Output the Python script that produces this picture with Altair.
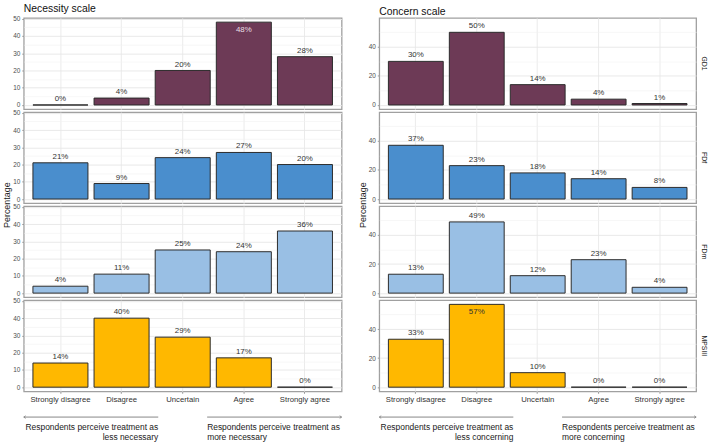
import altair as alt
import pandas as pd

categories = ["Strongly disagree", "Disagree", "Uncertain", "Agree", "Strongly agree"]
groups = ["GD1", "FDf", "FDm", "MPSIII"]
group_colors = ["#6D3A56", "#4A8ECD", "#99BFE4", "#FFB800"]

# Necessity scale (%)
nec_gd1 = [0, 4, 20, 48, 28]
nec_fdf = [21, 9, 24, 27, 20]
nec_fdm = [4, 11, 25, 24, 36]
nec_mps = [14, 40, 29, 17, 0]

# Concern scale (%)
con_gd1 = [30, 50, 14, 4, 1]
con_fdf = [37, 23, 18, 14, 8]
con_fdm = [13, 49, 12, 23, 4]
con_mps = [33, 57, 10, 0, 0]

nec_ticks = [0, 5, 10, 15, 20, 25, 30, 35, 40, 45, 50]
con_ticks = [0, 10, 20, 30, 40, 50]

# arrow annotation spans (in category-step units across the panel)
arrow_left = [0.0, 2.2]
arrow_right = [3.0, 5.2]
nec_notes = ["Respondents perceive treatment as\nless necessary",
             "Respondents perceive treatment as\nmore necessary"]
con_notes = ["Respondents perceive treatment as\nless concerning",
             "Respondents perceive treatment as\nmore concerning"]

FONT = "Liberation Sans"
H = 92


def panel(values, group, color, ydom, ticks, major_step, width,
          bottom=False, title=None, ytitle=False, strip=False):
    df = pd.DataFrame({
        "category": categories,
        "pct": values,
        "label": [f"{v}%" for v in values],
        "inside": [v > 0.9 * ydom[1] for v in values],
    })
    if bottom:
        xaxis = alt.Axis(title=None, labelAngle=0, labelFontSize=7.8, labelColor="#333333",
                         ticks=True, tickSize=2, tickColor="#999999", domain=False,
                         grid=True, gridColor="#ebebeb", bandPosition=0.5, labelPadding=2)
    else:
        xaxis = alt.Axis(title=None, labels=False, ticks=False, domain=False,
                         grid=True, gridColor="#ebebeb", bandPosition=0.5)
    test = f"datum.value % {major_step} === 0"
    yaxis = alt.Axis(
        values=ticks,
        labelExpr=f"datum.value % {major_step} === 0 ? datum.label : ''",
        labelFontSize=6.5, labelColor="#4d4d4d", labelPadding=2,
        tickSize=2, tickColor="#999999",
        tickOpacity={"condition": {"test": test, "value": 1}, "value": 0},
        domain=False, grid=True,
        gridColor={"condition": {"test": test, "value": "#e6e6e6"}, "value": "#f1f1f1"},
        gridWidth={"condition": {"test": test, "value": 0.9}, "value": 0.6},
        title="Percentage" if ytitle else None,
        titleFontSize=9, titleFontWeight="normal", titleColor="#1a1a1a",
        **({"titleY": H + 1.5, "titleX": -12} if ytitle else {}),
    )
    x = alt.X("category:N", sort=categories,
              scale=alt.Scale(paddingInner=0.1, paddingOuter=0.15), axis=xaxis)
    y = alt.Y("pct:Q", scale=alt.Scale(domain=ydom, nice=False, zero=False), axis=yaxis)
    base = alt.Chart(df)
    bars = base.mark_bar(color=color, stroke="#2a2a2a", strokeWidth=1).encode(x=x, y=y)
    out_lbl = base.transform_filter("!datum.inside").mark_text(
        baseline="bottom", dy=-2, fontSize=8, color="#333333", font=FONT
    ).encode(x=x, y=y, text="label:N")
    in_color = "#e8dfe4" if group == "GD1" else "#333333"
    in_lbl = base.transform_filter("datum.inside").mark_text(
        baseline="top", dy=4, fontSize=8, color=in_color, font=FONT
    ).encode(x=x, y=y, text="label:N")
    layers = [bars, out_lbl, in_lbl]
    if strip:
        s = alt.Chart(pd.DataFrame({"g": [group]})).mark_text(
            angle=90, fontSize=7, color="#1a1a1a", font=FONT, baseline="middle", align="center"
        ).encode(x=alt.value(width + 8), y=alt.value(H / 2), text="g:N")
        layers.append(s)
    ch = alt.layer(*layers).properties(width=width, height=H)
    if title:
        ch = ch.properties(title=alt.Title(title, anchor="start", frame="group", fontSize=10.5,
                                           fontWeight="normal", color="#111111", offset=1, font=FONT))
    return ch


def annotation(notes, width):
    arr = pd.DataFrame({"x": [arrow_left[0], arrow_right[0]], "x2": [arrow_left[1], arrow_right[1]]})
    tips = pd.DataFrame({"x": [arrow_left[0], arrow_right[1]], "dir": ["l", "r"]})
    txt = pd.DataFrame({"x": [arrow_left[1], arrow_right[0]], "t": notes, "side": ["l", "r"]})
    xs = alt.Scale(domain=[0, 5.2], nice=False, zero=False)
    rules = alt.Chart(arr).mark_rule(color="#666666", strokeWidth=0.8).encode(
        x=alt.X("x:Q", scale=xs, axis=None), x2="x2:Q", y=alt.value(8))
    tl = alt.Chart(tips).transform_filter("datum.dir == 'l'").mark_point(
        shape="M1,-0.7L0,0L1,0.7", size=16, color="#666666", strokeWidth=0.8, filled=False
    ).encode(x=alt.X("x:Q", scale=xs, axis=None), y=alt.value(8))
    tr = alt.Chart(tips).transform_filter("datum.dir == 'r'").mark_point(
        shape="M-1,-0.7L0,0L-1,0.7", size=16, color="#666666", strokeWidth=0.8, filled=False
    ).encode(x=alt.X("x:Q", scale=xs, axis=None), y=alt.value(8))
    t1 = alt.Chart(txt).transform_filter("datum.side == 'l'").mark_text(
        align="right", baseline="top", lineBreak="\n", fontSize=8.5, color="#1a1a1a",
        font=FONT, lineHeight=10
    ).encode(x=alt.X("x:Q", scale=xs, axis=None), y=alt.value(14), text="t:N")
    t2 = alt.Chart(txt).transform_filter("datum.side == 'r'").mark_text(
        align="left", baseline="top", lineBreak="\n", fontSize=8.5, color="#1a1a1a",
        font=FONT, lineHeight=10
    ).encode(x=alt.X("x:Q", scale=xs, axis=None), y=alt.value(14), text="t:N")
    return alt.layer(rules, tl, tr, t1, t2).properties(width=width, height=32, view=alt.ViewConfig(stroke=None))


nec_vals = [nec_gd1, nec_fdf, nec_fdm, nec_mps]
con_vals = [con_gd1, con_fdf, con_fdm, con_mps]

WL, WR = 321, 320
left_panels = [
    panel(v, g, c, [-2.4, 50.4], nec_ticks, 10, WL, bottom=(i == 3),
          title="Necessity scale" if i == 0 else None, ytitle=(i == 1))
    for i, (v, g, c) in enumerate(zip(nec_vals, groups, group_colors))
]
right_panels = [
    panel(v, g, c, [-2.85, 59.85], con_ticks, 20, WR, bottom=(i == 3),
          title="Concern scale" if i == 0 else None, ytitle=(i == 1), strip=True)
    for i, (v, g, c) in enumerate(zip(con_vals, groups, group_colors))
]

left_col = alt.vconcat(alt.vconcat(*left_panels, spacing=3, bounds="flush"),
                       annotation(nec_notes, WL), spacing=5)
right_col = alt.vconcat(alt.vconcat(*right_panels, spacing=3, bounds="flush"),
                        annotation(con_notes, WR), spacing=5)

chart = alt.hconcat(left_col, right_col, spacing=14).properties(
    padding={"left": 2, "top": 1, "right": 0, "bottom": 0}
).configure(font=FONT).configure_view(stroke="#a0a0a0", strokeWidth=1.3)

chart.save("out.html", embed_options={"renderer": "svg", "actions": False})
